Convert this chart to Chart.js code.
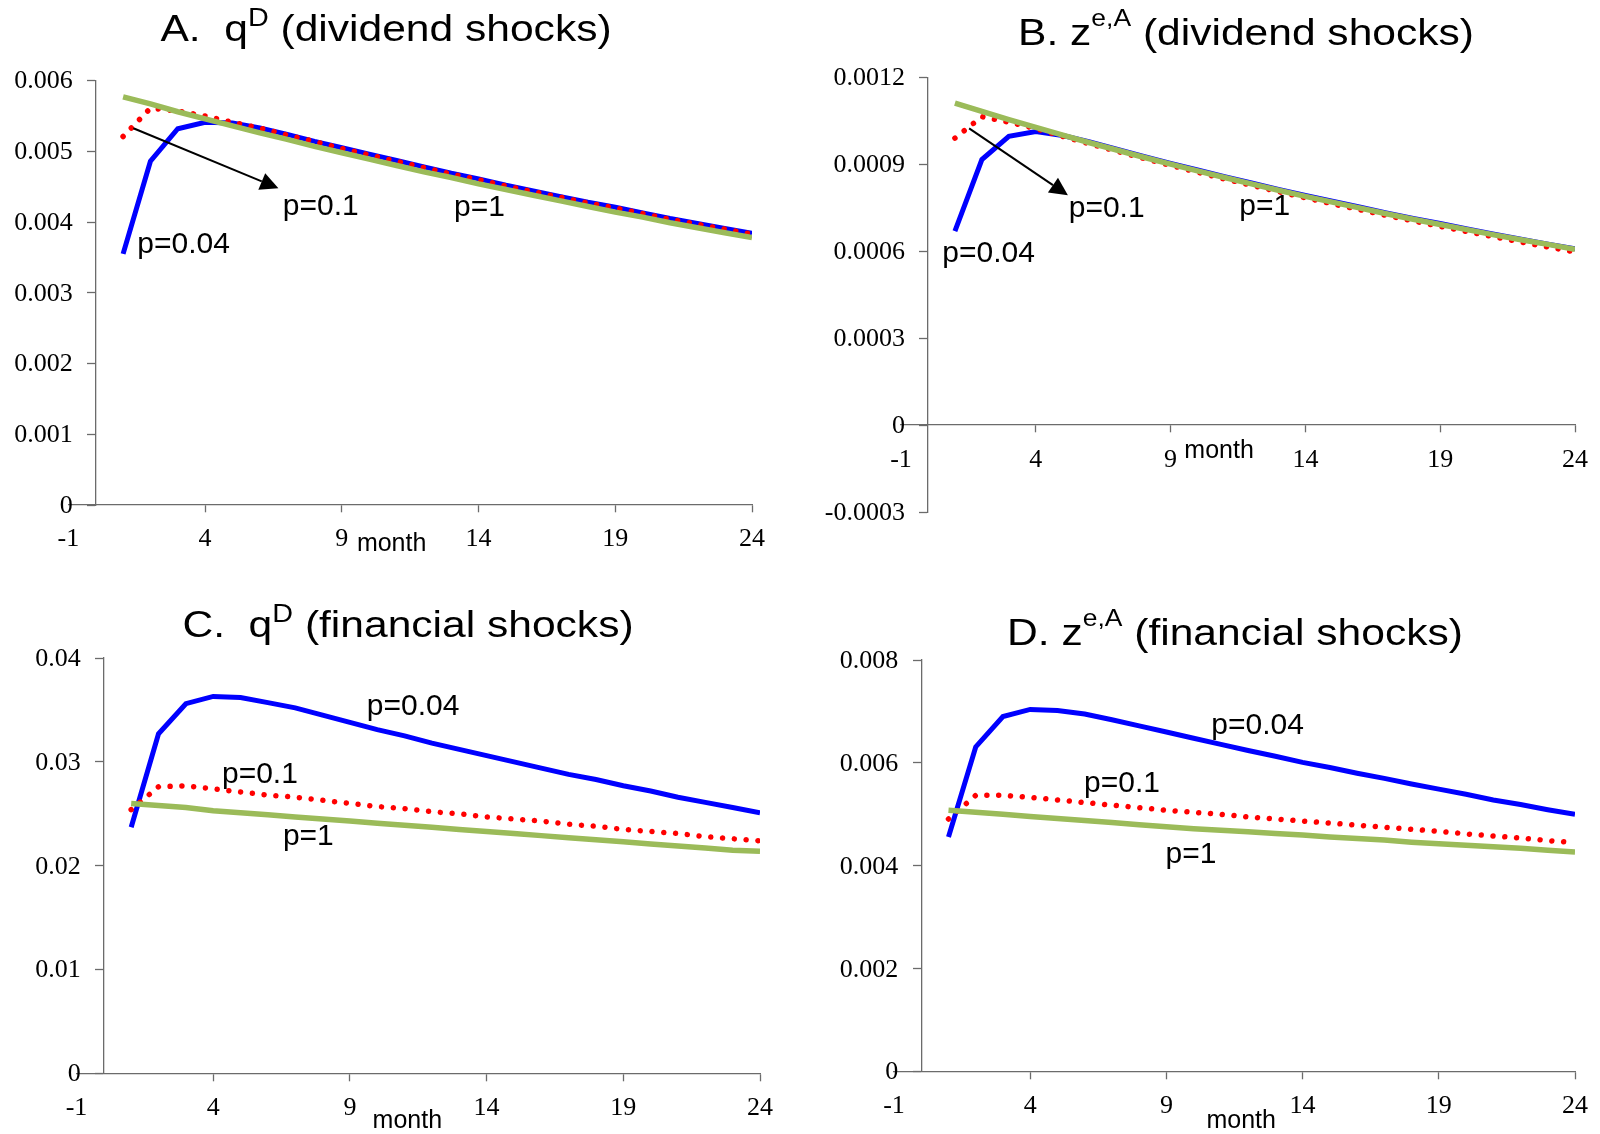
<!DOCTYPE html>
<html>
<head>
<meta charset="utf-8">
<script src="https://cdn.jsdelivr.net/npm/chart.js@4.4.1/dist/chart.umd.min.js"></script>
<style>
html, body { margin: 0; padding: 0; background: #fff; }
#wrap { position: relative; width: 1600px; height: 1134px; overflow: hidden; }
canvas { position: absolute; }
.title { position: absolute; width: 800px; text-align: center; white-space: pre;
  font-family: "Liberation Sans", Arial, sans-serif; font-size: 37px; line-height: 1; color: #000;
  transform: scaleX(1.15); }
.title sup { vertical-align: baseline; position: relative; }
.supD { font-size: 25px; top: -15px; }
.supE { font-size: 23px; top: -19px; }
</style>
</head>
<body>
<div id="wrap">
  <canvas id="cA" width="800" height="567" style="left:0;top:0"></canvas>
  <canvas id="cB" width="800" height="567" style="left:800px;top:0"></canvas>
  <canvas id="cC" width="800" height="567" style="left:0;top:567px"></canvas>
  <canvas id="cD" width="800" height="567" style="left:800px;top:567px"></canvas>
  <div class="title" style="left:-14px;top:10px">A.  q<sup class="supD">D</sup> (dividend shocks)</div>
  <div class="title" style="left:846px;top:14px">B. z<sup class="supE">e,A</sup> (dividend shocks)</div>
  <div class="title" style="left:8px;top:606px">C.  q<sup class="supD">D</sup> (financial shocks)</div>
  <div class="title" style="left:835px;top:614px">D. z<sup class="supE">e,A</sup> (financial shocks)</div>
</div>
<script>
// colours, roughly Excel 2007 defaults
const blue = "#0000ff";
const red = "#ff0000";
const green = "#9bbb59";
const axisColor = "#6b6b6b";

const months = [1, 2, 3, 4, 5, 6, 7, 8, 9, 10, 11, 12, 13, 14, 15, 16, 17, 18, 19, 20, 21, 22, 23, 24];
const xTicks = [-1, 4, 9, 14, 19, 24];

// A. q^D, dividend shocks
const aTicks = [0, 0.001, 0.002, 0.003, 0.004, 0.005, 0.006];
const aTickLabels = ['0', '0.001', '0.002', '0.003', '0.004', '0.005', '0.006'];
const aBlue = [0.00355, 0.00486, 0.00532, 0.00541, 0.00540, 0.00533, 0.00524, 0.00514, 0.00505, 0.00496, 0.00487, 0.00478, 0.00469, 0.00461, 0.00452, 0.00444, 0.00436, 0.00428, 0.00421, 0.00413, 0.00405, 0.00398, 0.00391, 0.00384];
const aRed = [0.00521, 0.00561, 0.00557, 0.00550, 0.00541, 0.00533, 0.00523, 0.00514, 0.00504, 0.00495, 0.00486, 0.00477, 0.00468, 0.00460, 0.00451, 0.00443, 0.00435, 0.00427, 0.00420, 0.00412, 0.00404, 0.00397, 0.00390, 0.00383];
const aGreen = [0.00577, 0.00567, 0.00556, 0.00546, 0.00536, 0.00526, 0.00517, 0.00507, 0.00498, 0.00489, 0.00480, 0.00471, 0.00463, 0.00454, 0.00446, 0.00438, 0.00430, 0.00422, 0.00414, 0.00407, 0.00399, 0.00392, 0.00385, 0.00378];

// B. z^{e,A}, dividend shocks
const bTicks = [-0.0003, 0, 0.0003, 0.0006, 0.0009, 0.0012];
const bTickLabels = ['-0.0003', '0', '0.0003', '0.0006', '0.0009', '0.0012'];
const bBlue = [0.000670, 0.000917, 0.000997, 0.001014, 0.001000, 0.000978, 0.000953, 0.000928, 0.000904, 0.000881, 0.000858, 0.000836, 0.000814, 0.000793, 0.000773, 0.000753, 0.000733, 0.000714, 0.000696, 0.000677, 0.000659, 0.000642, 0.000625, 0.000609];
const bRed = [0.000991, 0.001065, 0.001046, 0.001024, 0.000997, 0.000971, 0.000946, 0.000921, 0.000897, 0.000873, 0.000850, 0.000828, 0.000806, 0.000785, 0.000764, 0.000744, 0.000724, 0.000705, 0.000686, 0.000668, 0.000650, 0.000632, 0.000615, 0.000598];
const bGreen = [0.001112, 0.001083, 0.001055, 0.001028, 0.001001, 0.000975, 0.000950, 0.000925, 0.000901, 0.000878, 0.000855, 0.000833, 0.000811, 0.000790, 0.000770, 0.000750, 0.000730, 0.000711, 0.000693, 0.000675, 0.000657, 0.000640, 0.000624, 0.000607];

// C. q^D, financial shocks
const cTicks = [0, 0.01, 0.02, 0.03, 0.04];
const cTickLabels = ['0', '0.01', '0.02', '0.03', '0.04'];
const cBlue = [0.0237, 0.0327, 0.0356, 0.0363, 0.0362, 0.0357, 0.0352, 0.0345, 0.0338, 0.0331, 0.0325, 0.0318, 0.0312, 0.0306, 0.0300, 0.0294, 0.0288, 0.0283, 0.0277, 0.0272, 0.0266, 0.0261, 0.0256, 0.0251];
const cRed = [0.0254, 0.0276, 0.0277, 0.0274, 0.0271, 0.0268, 0.0266, 0.0263, 0.0260, 0.0257, 0.0255, 0.0252, 0.0250, 0.0247, 0.0245, 0.0243, 0.0240, 0.0238, 0.0235, 0.0233, 0.0231, 0.0228, 0.0226, 0.0224];
const cGreen = [0.0260, 0.0258, 0.0256, 0.0253, 0.0251, 0.0249, 0.0247, 0.0245, 0.0243, 0.0241, 0.0239, 0.0237, 0.0235, 0.0233, 0.0231, 0.0229, 0.0227, 0.0225, 0.0223, 0.0221, 0.0219, 0.0217, 0.0215, 0.0214];

// D. z^{e,A}, financial shocks
const dTicks = [0, 0.002, 0.004, 0.006, 0.008];
const dTickLabels = ['0', '0.002', '0.004', '0.006', '0.008'];
const dBlue = [0.00456, 0.00631, 0.00690, 0.00704, 0.00702, 0.00695, 0.00684, 0.00672, 0.00660, 0.00648, 0.00636, 0.00624, 0.00613, 0.00601, 0.00591, 0.00580, 0.00570, 0.00559, 0.00549, 0.00539, 0.00528, 0.00519, 0.00509, 0.00500];
const dRed = [0.00491, 0.00537, 0.00537, 0.00533, 0.00528, 0.00523, 0.00518, 0.00513, 0.00508, 0.00504, 0.00500, 0.00495, 0.00491, 0.00487, 0.00483, 0.00479, 0.00475, 0.00471, 0.00467, 0.00462, 0.00458, 0.00454, 0.00449, 0.00445];
const dGreen = [0.00508, 0.00504, 0.00500, 0.00496, 0.00492, 0.00488, 0.00484, 0.00480, 0.00476, 0.00472, 0.00469, 0.00466, 0.00463, 0.00460, 0.00456, 0.00453, 0.00450, 0.00446, 0.00443, 0.00440, 0.00437, 0.00434, 0.00430, 0.00427];

const serif = '"Liberation Serif", "Times New Roman", serif';
const tickFont = { family: serif, size: 26 };
const noteFont = '30px "Liberation Sans", Arial, sans-serif';
const monthFont = '25px "Liberation Sans", Arial, sans-serif';

function pts(vals) {
  return months.map((m, i) => ({ x: m, y: vals[i] }));
}

// y tick labels (the axis sits at x=0, Chart.js would put them on the line),
// the "p=.." labels, the arrow and the "month" caption
function notesPlugin(p) {
  return {
    id: 'notes',
    afterDraw(chart) {
      const { ctx } = chart;
      const x = chart.scales.x, y = chart.scales.y;
      ctx.save();
      ctx.fillStyle = '#000';

      ctx.font = tickFont.size + 'px ' + serif;
      ctx.textAlign = 'right';
      ctx.textBaseline = 'middle';
      const yAxisX = x.getPixelForValue(0);
      y.ticks.forEach((t, i) => ctx.fillText(p.yLabels[i], yAxisX - 23, y.getPixelForValue(t.value) + 1));

      ctx.textAlign = 'left';
      ctx.textBaseline = 'alphabetic';
      ctx.font = noteFont;
      p.labels.forEach(l => ctx.fillText(l[0], x.getPixelForValue(l[1]), y.getPixelForValue(l[2])));
      if (p.arrow) {
        const [x0, y0, x1, y1] = p.arrow;
        const ax = x.getPixelForValue(x0), ay = y.getPixelForValue(y0);
        const bx = x.getPixelForValue(x1), by = y.getPixelForValue(y1);
        const ang = Math.atan2(by - ay, bx - ax);
        const hl = 18, hw = 9;
        const cx = bx - hl * Math.cos(ang), cy = by - hl * Math.sin(ang);
        ctx.strokeStyle = '#000';
        ctx.lineWidth = 2;
        ctx.beginPath();
        ctx.moveTo(ax, ay);
        ctx.lineTo(cx, cy);
        ctx.stroke();
        ctx.beginPath();
        ctx.moveTo(bx, by);
        ctx.lineTo(cx + hw * Math.sin(ang), cy - hw * Math.cos(ang));
        ctx.lineTo(cx - hw * Math.sin(ang), cy + hw * Math.cos(ang));
        ctx.closePath();
        ctx.fill();
      }
      ctx.font = monthFont;
      ctx.fillText('month', x.getPixelForValue(p.month[0]), y.getPixelForValue(0) + p.month[1]);
      ctx.restore();
    }
  };
}

function panel(id, p) {
  new Chart(document.getElementById(id), {
    type: 'line',
    data: {
      datasets: [
        { data: pts(p.green), borderColor: green, borderWidth: 5.5 },
        { data: pts(p.red), borderColor: red, borderWidth: 5.5, borderDash: [0.01, 11.8], borderCapStyle: 'round' },
        { data: pts(p.blue), borderColor: blue, borderWidth: 5 }
      ]
    },
    options: {
      responsive: false,
      animation: false,
      events: [],
      devicePixelRatio: 1,
      layout: { padding: p.pad },
      elements: { point: { radius: 0 }, line: { tension: 0, fill: false } },
      plugins: { legend: { display: false }, tooltip: { enabled: false } },
      scales: {
        x: {
          type: 'linear', min: -1, max: 24,
          position: { y: p.yTicks[0] < 0 ? 0 : p.yTicks[0] },
          afterBuildTicks: s => { s.ticks = xTicks.map(v => ({ value: v })); },
          ticks: { font: tickFont, color: '#000', padding: 12, maxRotation: 0, autoSkip: false, callback: v => String(v) },
          grid: { drawOnChartArea: false, tickLength: 7, tickWidth: 1.3,
            tickColor: c => (c.tick && c.tick.value === -1) ? 'rgba(0,0,0,0)' : axisColor },
          border: { color: axisColor, width: 1.3 }
        },
        y: {
          type: 'linear', min: p.yTicks[0], max: p.yTicks[p.yTicks.length - 1],
          position: { x: 0 },
          afterBuildTicks: s => { s.ticks = p.yTicks.map(v => ({ value: v })); },
          ticks: { display: false },
          grid: { drawOnChartArea: false, tickLength: 8, tickWidth: 1.3, tickColor: axisColor },
          border: { color: axisColor, width: 1.3 }
        }
      }
    },
    plugins: [notesPlugin(p)]
  });
}

panel('cA', {
  blue: aBlue, red: aRed, green: aGreen, yTicks: aTicks, yLabels: aTickLabels,
  pad: { left: 68.4, right: 48, top: 80.6, bottom: 62 },
  labels: [['p=0.04', 1.52, 0.00356], ['p=0.1', 6.84, 0.0041], ['p=1', 13.1, 0.00409]],
  arrow: [1.375, 0.005326, 6.68, 0.004477],
  month: [9.55, 46]
});

panel('cB', {
  blue: bBlue, red: bRed, green: bGreen, yTicks: bTicks, yLabels: bTickLabels,
  pad: { left: 101, right: 16.4, top: 77.6, bottom: 55 },
  labels: [['p=0.04', 0.53, 0.000563], ['p=0.1', 5.22, 0.000719], ['p=1', 11.55, 0.000725]],
  arrow: [1.527, 0.0010245, 5.19, 0.000794],
  month: [9.51, 33]
});

panel('cC', {
  blue: cBlue, red: cRed, green: cGreen, yTicks: cTicks, yLabels: cTickLabels,
  pad: { left: 76.5, right: 40, top: 91, bottom: 60.5 },
  labels: [['p=0.04', 9.62, 0.03453], ['p=0.1', 4.32, 0.02798], ['p=1', 6.55, 0.02203]],
  month: [9.83, 54]
});

panel('cD', {
  blue: dBlue, red: dRed, green: dGreen, yTicks: dTicks, yLabels: dTickLabels,
  pad: { left: 94, right: 21.4, top: 93, bottom: 62.4 },
  labels: [['p=0.04', 10.65, 0.006567], ['p=0.1', 5.975, 0.005434], ['p=1', 8.97, 0.00406]],
  month: [10.47, 56]
});
</script>
</body>
</html>
